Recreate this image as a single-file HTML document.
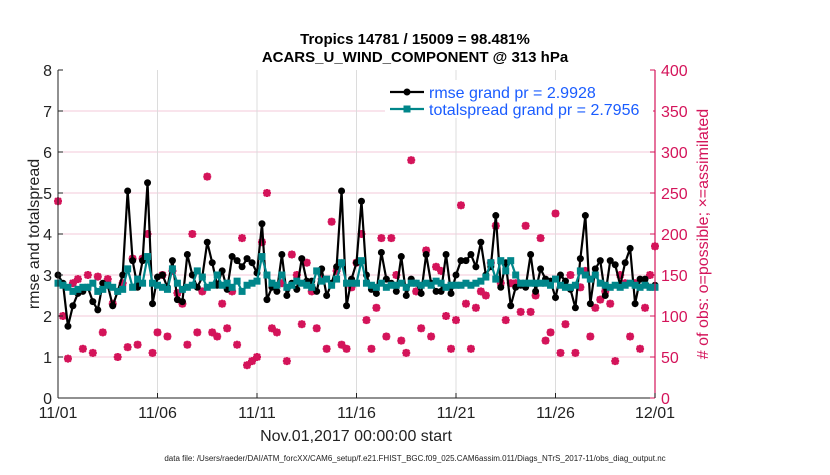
<!DOCTYPE html>
<html><head><meta charset="utf-8"><style>
body{margin:0;background:#fff;}
svg text{font-family:"Liberation Sans",sans-serif;}
</style></head><body>
<svg id="chart" width="830" height="470" xmlns="http://www.w3.org/2000/svg">
<g id="grid"></g><g id="marks"></g><g id="axes"></g>
</svg>
<script>
const xTickLabels=["11/01","11/06","11/11","11/16","11/21","11/26","12/01"];
const xTickDays=[0,5,10,15,20,25,30];
const yLeftTicks=[0,1,2,3,4,5,6,7,8];
const yRightTicks=[0,50,100,150,200,250,300,350,400];
const rmse=[3.0,2.8,1.75,2.25,2.55,2.6,2.7,2.35,
2.15,2.8,2.75,2.25,2.6,3.0,5.05,3.35,
2.7,3.35,5.25,2.3,2.95,3.0,2.7,3.35,
2.4,2.35,3.5,3.0,2.7,2.95,3.8,3.3,
2.75,3.1,2.65,3.45,3.35,3.2,3.4,3.3,
3.05,4.25,2.4,2.7,2.6,3.5,2.5,2.8,
2.65,3.4,2.85,2.85,2.6,3.15,2.5,2.8,
3.2,5.05,2.25,2.9,3.3,4.8,3.0,2.65,
2.55,3.55,2.9,2.8,2.6,3.45,2.5,2.9,
2.8,2.55,3.5,2.8,2.6,2.6,3.5,2.55,
3.0,3.35,3.35,3.5,3.2,3.8,3.0,3.2,
4.45,2.7,3.3,2.25,2.7,2.75,2.7,3.5,
2.6,3.15,2.9,2.85,2.45,3.0,2.85,2.65,
2.2,3.4,4.45,2.3,3.15,3.35,2.5,3.35,
3.25,2.75,3.3,3.65,2.3,2.9,2.9,2.7,2.75];
const spread=[2.8,2.75,2.7,2.6,2.65,2.7,2.7,2.8,
2.6,2.65,2.75,2.7,2.6,2.65,3.15,2.7,
2.9,2.8,3.45,2.8,2.75,2.7,2.65,3.15,
2.8,2.65,2.7,2.75,3.1,2.95,2.7,2.75,
3.0,2.75,2.8,2.7,2.85,2.6,2.75,2.8,
2.85,3.45,3.0,2.8,2.75,3.0,2.7,2.75,
2.85,2.8,2.75,2.7,3.1,2.85,2.9,2.75,
2.9,3.3,2.8,2.8,2.8,3.35,2.8,2.75,
2.7,2.8,2.7,2.75,2.75,2.8,2.7,2.8,
2.8,2.75,2.8,2.75,2.85,2.8,2.7,2.75,
2.75,2.75,2.8,2.75,2.8,2.85,2.95,3.3,
2.9,3.35,3.1,3.35,3.0,2.8,2.8,2.8,
2.8,2.8,2.8,2.75,2.9,2.75,2.7,2.7,
2.75,3.1,3.0,2.9,3.0,2.8,2.75,2.7,
2.75,2.7,2.75,2.8,2.75,2.7,2.75,2.7,2.7];
const nobs=[240,100,48,140,145,60,150,55,
148,80,145,115,50,140,62,170,
65,170,200,55,80,150,75,155,
128,115,65,200,80,130,270,80,
75,115,85,130,65,195,40,45,
50,190,250,85,80,140,45,175,
150,90,165,130,85,145,60,215,
155,65,60,135,165,200,95,60,
110,195,75,195,150,70,55,290,
130,85,180,75,160,155,100,60,
95,235,115,60,110,130,125,165,
210,140,95,140,140,105,210,105,
125,195,70,80,225,55,90,150,
55,135,155,75,110,120,130,115,
45,150,140,75,140,60,110,150,185];
const NS="http://www.w3.org/2000/svg";
const X0=58,X1=655,Y0=398,Y1=70;
const xs=d=>X0+(X1-X0)*d/30;
const yl=v=>Y0-(Y0-Y1)*v/8;
const yr=v=>Y0-(Y0-Y1)*v/400;
function mk(t,a,p,txt){const e=document.createElementNS(NS,t);for(const k in a)e.setAttribute(k,a[k]);if(txt!==undefined)e.textContent=txt;document.getElementById(p).appendChild(e);return e;}
// grid
yLeftTicks.forEach(v=>{if(v>0&&v<8){const e=mk('line',{x1:X0,x2:X1,y1:yl(v),y2:yl(v),stroke:'#f3c8d8','stroke-width':1},'grid');

}});
xTickDays.forEach(d=>{if(d>0&&d<30){const e=mk('line',{x1:xs(d),x2:xs(d),y1:Y1,y2:Y0,stroke:'#dcdcdc','stroke-width':1},'grid');

}});
// obs markers
nobs.forEach((v,i)=>{const x=xs(i/4),y=yr(v);
const g=mk('g',{},'marks');


const s=4;
[[x-s,y,x+s,y],[x,y-s,x,y+s],[x-3,y-3,x+3,y+3],[x-3,y+3,x+3,y-3]].forEach(l=>{const e=document.createElementNS(NS,'line');e.setAttribute('x1',l[0]);e.setAttribute('y1',l[1]);e.setAttribute('x2',l[2]);e.setAttribute('y2',l[3]);e.setAttribute('stroke','#d4145a');e.setAttribute('stroke-width','2.2');g.appendChild(e);});
const c=document.createElementNS(NS,'circle');c.setAttribute('cx',x);c.setAttribute('cy',y);c.setAttribute('r',3);c.setAttribute('fill','none');c.setAttribute('stroke','#d4145a');c.setAttribute('stroke-width','1.5');g.appendChild(c);});
function series(arr,col,name,sq){
const pl=mk('polyline',{points:arr.map((v,i)=>xs(i/4)+','+yl(v)).join(' '),fill:'none',stroke:col,'stroke-width':2.2},'marks');


arr.forEach((v,i)=>{let e;if(sq)e=mk('rect',{x:xs(i/4)-3.5,y:yl(v)-3.5,width:7,height:7,fill:col},'marks');else e=mk('circle',{cx:xs(i/4),cy:yl(v),r:3.5,fill:col},'marks');

});}
series(rmse,'#000','rmse',false);
series(spread,'#00868a','totalspread',true);
// axes
let e;
e=mk('line',{x1:X0,x2:X0,y1:Y1,y2:Y0,stroke:'#222','stroke-width':1},'axes');

e=mk('line',{x1:X0,x2:X1,y1:Y0,y2:Y0,stroke:'#222','stroke-width':1},'axes');

e=mk('line',{x1:X1,x2:X1,y1:Y1,y2:Y0,stroke:'#d4145a','stroke-width':1.2},'axes');

yLeftTicks.forEach(v=>{mk('line',{x1:X0,x2:X0+5,y1:yl(v),y2:yl(v),stroke:'#222'},'axes');
const t=mk('text',{x:X0-6,y:yl(v)+6,'text-anchor':'end','font-size':16,fill:'#222'},'axes',String(v));
});
yRightTicks.forEach(v=>{mk('line',{x1:X1-5,x2:X1,y1:yr(v),y2:yr(v),stroke:'#d4145a'},'axes');
const t=mk('text',{x:X1+6,y:yr(v)+6,'font-size':16,fill:'#d4145a'},'axes',String(v));
});
xTickDays.forEach((d,i)=>{mk('line',{x1:xs(d),x2:xs(d),y1:Y0-5,y2:Y0,stroke:'#222'},'axes');
const t=mk('text',{x:xs(d),y:Y0+20,'text-anchor':'middle','font-size':16,fill:'#222'},'axes',xTickLabels[i]);
});
</script>
<svg width="830" height="470" style="position:absolute;left:0;top:0" xmlns="http://www.w3.org/2000/svg">
<text x="415" y="44" text-anchor="middle" font-size="15" font-weight="bold" font-family="Liberation Sans,sans-serif">Tropics 14781 / 15009 = 98.481%</text>
<text x="415" y="62" text-anchor="middle" font-size="15" font-weight="bold" font-family="Liberation Sans,sans-serif">ACARS_U_WIND_COMPONENT @ 313 hPa</text>
<text transform="translate(39,234) rotate(-90)" text-anchor="middle" font-size="16" font-family="Liberation Sans,sans-serif" fill="#222">rmse and totalspread</text>
<text transform="translate(708,234) rotate(-90)" text-anchor="middle" font-size="16" font-family="Liberation Sans,sans-serif" fill="#d4145a"># of obs: o=possible; ×=assimilated</text>
<text x="356" y="441" text-anchor="middle" font-size="16" font-family="Liberation Sans,sans-serif" fill="#222">Nov.01,2017 00:00:00 start</text>
<text x="415" y="461" text-anchor="middle" font-size="8" font-family="Liberation Sans,sans-serif" fill="#222">data file: /Users/raeder/DAI/ATM_forcXX/CAM6_setup/f.e21.FHIST_BGC.f09_025.CAM6assim.011/Diags_NTrS_2017-11/obs_diag_output.nc</text>
<g>
<rect x="385" y="80" width="268" height="38" fill="#fff"/>
<line x1="390" x2="424" y1="92" y2="92" stroke="#000" stroke-width="2.2"/><circle cx="407" cy="92" r="3.5" fill="#000"/>
<text x="429" y="98" font-size="16" font-family="Liberation Sans,sans-serif" fill="#1a5cff">rmse grand pr = 2.9928</text>
<line x1="390" x2="424" y1="109" y2="109" stroke="#00868a" stroke-width="2.2"/><rect x="403.5" y="105.5" width="7" height="7" fill="#00868a"/>
<text x="429" y="115" font-size="16" font-family="Liberation Sans,sans-serif" fill="#1a5cff">totalspread grand pr = 2.7956</text>
</g>
</svg>
</body></html>
